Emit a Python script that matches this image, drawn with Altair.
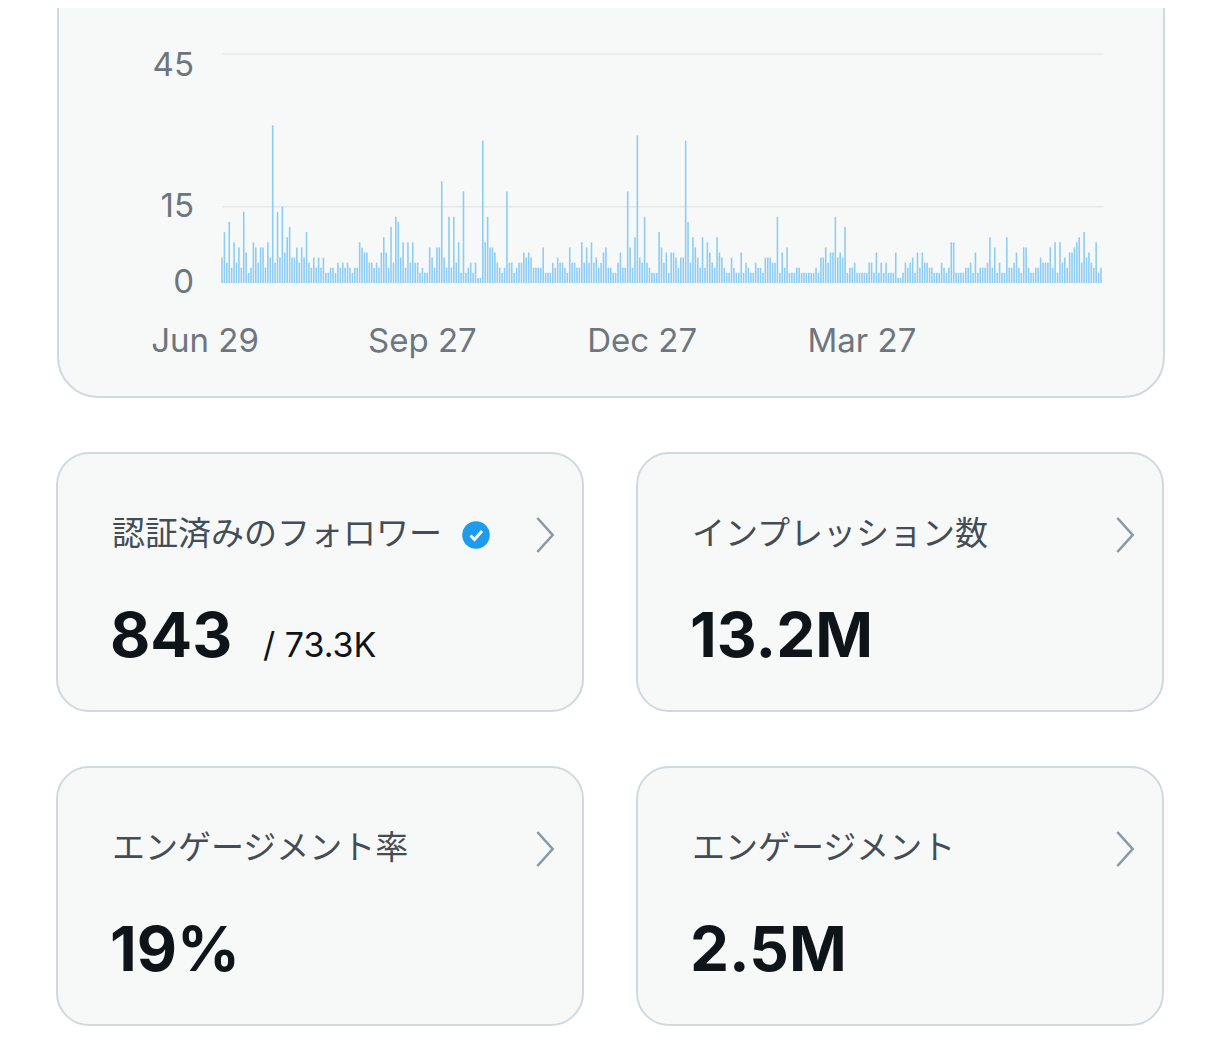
import altair as alt
import pandas as pd

# daily counts, Jul 6 2023 .. Jul 4 2024
jul_sep = [5, 10, 4, 12, 3, 8, 4, 7, 3, 14, 6, 2, 3, 8, 7, 4, 7, 7, 3, 8,
           5, 31, 4, 14, 5, 15, 6, 9, 11, 5, 5, 7, 4, 7, 5, 10, 4, 3, 5, 3,
           5, 3, 5, 2, 2, 3, 3, 2, 4, 3, 4, 3, 4, 3, 2, 3, 3, 8, 7]
sep_oct = [6, 6, 4, 4, 3, 4, 3, 6, 9, 6, 3, 11, 4, 13, 12, 5, 8, 3, 8, 4,
           8, 4, 4, 2, 3, 2, 2, 7, 5, 3, 7, 7, 20, 5, 3, 13, 3, 13, 4, 8,
           2, 18, 2, 3, 4, 2, 4, 1, 1, 28, 8, 13, 7, 7, 6, 4, 3, 2, 3]
nov_dec = [18, 4, 4, 2, 3, 4, 4, 6, 5, 6, 5, 3, 3, 3, 3, 7, 2, 2, 2, 4,
           3, 5, 4, 4, 3, 2, 7, 4, 4, 3, 3, 8, 4, 7, 4, 8, 4, 5, 3, 4,
           6, 7, 3, 3, 2, 2, 4, 6, 3, 3, 18, 7, 3, 9, 29, 5, 4, 13, 4, 3,
           2, 2]
jan_feb = [2, 10, 7, 4, 6, 2, 6, 6, 5, 3, 5, 5, 28, 12, 4, 9, 7, 5, 3, 9,
           3, 8, 6, 4, 3, 9, 6, 5, 3, 2, 2, 5, 3, 2, 2, 6, 2, 4, 3, 2,
           2, 4, 3, 3, 2, 5, 5, 5, 4, 4, 13, 2, 6, 3, 7, 2, 2, 2, 3, 3, 2]
mar_apr = [2, 2, 2, 2, 2, 3, 2, 5, 5, 7, 4, 6, 6, 13, 5, 6, 5, 11, 2, 3,
           3, 4, 2, 2, 2, 2, 2, 4, 4, 2, 6, 2, 4, 2, 4, 2, 2, 2, 6, 1,
           1, 2, 4, 3, 4, 5, 2, 6, 3, 6, 4, 4, 3, 3, 2, 2, 2, 4, 3]
may_jul = [2, 3, 8, 8, 2, 2, 2, 2, 3, 3, 4, 2, 6, 2, 3, 3, 3, 4, 9, 3,
           7, 2, 4, 2, 2, 9, 3, 3, 4, 6, 3, 2, 7, 7, 3, 2, 2, 3, 3, 5,
           4, 4, 4, 7, 3, 8, 2, 8, 4, 5, 3, 6, 6, 7, 8, 9, 4, 10, 5, 6,
           4, 3, 8, 2, 3]
daily = jul_sep + sep_oct + nov_dec + jan_feb + mar_apr + may_jul

tick_dates = ["2023-06-29", "2023-09-27", "2023-12-27", "2024-03-27"]
tick_labels = ["Jun 29", "Sep 27", "Dec 27", "Mar 27"]
grid_values = [15, 45]

card_titles = ["認証済みのフォロワー", "インプレッション数", "エンゲージメント率", "エンゲージメント"]
card_values = ["843", "13.2M", "19%", "2.5M"]
card_subs = ["/ 73.3K", "", "", ""]

LATIN = "Inter, 'Noto Sans CJK JP', sans-serif"
JP = "'Noto Sans CJK JP', sans-serif"
CARD_FILL = "#f7f9f9"
CARD_STROKE = "#cfd9de"

bars_df = pd.DataFrame({
    "date": pd.date_range("2023-07-06", periods=len(daily), freq="D"),
    "count": daily,
})
ticks_df = pd.DataFrame({"date": pd.to_datetime(tick_dates), "label": tick_labels})
grid_df = pd.DataFrame({
    "v": grid_values,
    "start": pd.Timestamp("2023-07-06"),
    "end": pd.Timestamp("2024-07-05"),
})

xs = alt.Scale(domain=[alt.DateTime(year=2023, month=7, date=6),
                       alt.DateTime(year=2024, month=7, date=4)],
               range=[165, 1044], padding=0)
ys = alt.Scale(domain=[0, 45], range=[275, 46], nice=False, padding=0)

one = pd.DataFrame({"k": [0]})

card_bg = alt.Chart(one).mark_rect(
    clip=True, cornerRadius=40, fill=CARD_FILL, stroke=CARD_STROKE, strokeWidth=2
).encode(x=alt.value(1), x2=alt.value(1107), y=alt.value(-60), y2=alt.value(389))

grid = alt.Chart(grid_df).mark_rule(color="#e3e8eb", strokeWidth=1.5).encode(
    x=alt.X("start:T", scale=xs, axis=None),
    x2="end:T",
    y=alt.Y("v:Q", scale=ys, axis=None),
)

bars = alt.Chart(bars_df).mark_bar(size=1.6, color="#8ecdf3").encode(
    x=alt.X("date:T", scale=xs, axis=None),
    y=alt.Y("count:Q", scale=ys, axis=None),
    tooltip=["date:T", "count:Q"],
)

ylab_style = dict(align="right", baseline="middle", font=LATIN, fontSize=33, color="#6e767d")
ylabels_low = alt.Chart(pd.DataFrame({"v": [0, 15]})).mark_text(**ylab_style).encode(
    x=alt.value(137),
    y=alt.Y("v:Q", scale=ys, axis=None),
    text="v:Q",
)
ylabels_top = alt.Chart(pd.DataFrame({"v": [45]})).mark_text(dy=12, **ylab_style).encode(
    x=alt.value(137),
    y=alt.Y("v:Q", scale=ys, axis=None),
    text="v:Q",
)

xlabels = alt.Chart(ticks_df).mark_text(
    align="center", baseline="middle", font=LATIN, fontSize=33, color="#6e767d"
).encode(
    x=alt.X("date:T", scale=xs, axis=None),
    y=alt.value(334),
    text="label:N",
)

top = alt.layer(card_bg, grid, bars, ylabels_low, ylabels_top, xlabels).properties(
    width=1108, height=390
)


def make_card(i, badge=False):
    layers = [
        alt.Chart(pd.DataFrame({"t": [card_titles[i]]})).mark_text(
            align="left", baseline="middle", font=JP, fontSize=33, color="#444d55"
        ).encode(x=alt.value(55), y=alt.value(82), text="t:N"),
        alt.Chart(pd.DataFrame({"t": [card_values[i]]})).mark_text(
            align="left", baseline="alphabetic", font=LATIN, fontSize=62,
            fontWeight="bold", color="#0f1419"
        ).encode(x=alt.value(53), y=alt.value(204), text="t:N"),
        alt.Chart(one).mark_point(
            shape="M-0.45,-1L0.45,0L-0.45,1", size=1156, filled=False,
            strokeWidth=2.6, color="#8b98a5", opacity=1
        ).encode(x=alt.value(488), y=alt.value(82)),
    ]
    if card_subs[i]:
        layers.append(
            alt.Chart(pd.DataFrame({"t": [card_subs[i]]})).mark_text(
                align="left", baseline="alphabetic", font=LATIN, fontSize=34, color="#0f1419"
            ).encode(x=alt.value(206), y=alt.value(204), text="t:N")
        )
    if badge:
        layers.append(
            alt.Chart(one).mark_circle(size=760, color="#1d9bf0", opacity=1)
            .encode(x=alt.value(419), y=alt.value(82))
        )
        layers.append(
            alt.Chart(one).mark_point(
                shape="M-0.55,0.05L-0.15,0.45L0.6,-0.4", size=400, filled=False,
                strokeWidth=3, color="white", opacity=1
            ).encode(x=alt.value(419), y=alt.value(82))
        )
    return alt.layer(*layers).properties(
        width=526, height=258,
        view=alt.ViewBackground(fill=CARD_FILL, stroke=CARD_STROKE, strokeWidth=2, cornerRadius=32),
    )


row1 = alt.hconcat(make_card(0, badge=True), make_card(1), spacing=52)
row2 = alt.hconcat(make_card(2), make_card(3), spacing=52)

chart = alt.vconcat(top, row1, row2, spacing=54).properties(
    padding={"left": 48, "top": 0, "right": 0, "bottom": 0},
    background="white",
).configure_view(strokeWidth=0)

chart.save("out.html", embed_options={"renderer": "svg", "actions": False})
